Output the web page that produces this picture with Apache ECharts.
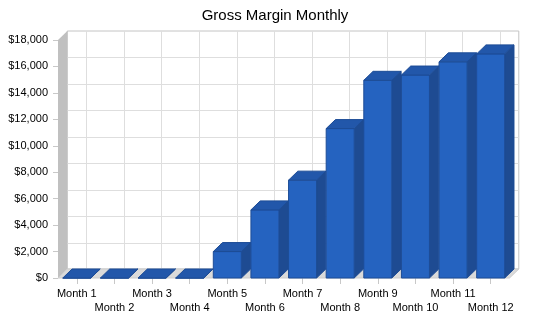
<!DOCTYPE html>
<html>
<head>
<meta charset="utf-8">
<script src="https://cdn.jsdelivr.net/npm/echarts@6/dist/echarts.min.js"></script>
<style>html,body{margin:0;padding:0;background:#fff}#c{width:550px;height:318px}</style>
</head>
<body>
<div id="c"></div>
<script>
const categories = ['Month 1','Month 2','Month 3','Month 4','Month 5','Month 6','Month 7','Month 8','Month 9','Month 10','Month 11','Month 12'];
const grossMargin = [0, 0, 0, 0, 2000, 5150, 7400, 11300, 14950, 15350, 16350, 16950];
const yMin = 0, yMax = 18000, yInterval = 2000;
const yTickValues = [0, 2000, 4000, 6000, 8000, 10000, 12000, 14000, 16000, 18000];

const DEPTH = 0.247;   // depth offset as share of category band
const DY = 9;          // vertical depth offset in px
const BAR = 0.745;     // bar width as share of band

const chart = echarts.init(document.getElementById('c'), null, {renderer: 'canvas'});

function wallsItem(params, api) {
  const cs = params.coordSys;
  const L = cs.x, T = cs.y, R = cs.x + cs.width, B = cs.y + cs.height;
  const band = api.size([1, 0])[0];
  const dx = band * DEPTH, dy = DY;
  const children = [];
  children.push({type: 'rect', shape: {x: L + dx, y: T - dy, width: R - L, height: B - T},
    style: {fill: '#ffffff', stroke: '#c4c4c4', lineWidth: 1}});
  yTickValues.forEach(function (v) {
    if (v === yMin || v === yMax) return;
    const y = Math.round(api.coord([0, v])[1] - dy) + 0.5;
    children.push({type: 'line', shape: {x1: L + dx, y1: y, x2: R + dx, y2: y},
      style: {stroke: '#dedede', lineWidth: 1}});
  });
  categories.forEach(function (c, i) {
    const x = Math.round(api.coord([i, 0])[0] + dx) + 0.5;
    children.push({type: 'line', shape: {x1: x, y1: T - dy, x2: x, y2: B - dy},
      style: {stroke: '#dedede', lineWidth: 1}});
  });
  children.push({type: 'polygon', shape: {points: [[L, T], [L + dx, T - dy], [L + dx, B - dy], [L, B]]},
    style: {fill: '#c0c0c0'}});
  children.push({type: 'polygon', shape: {points: [[L, B], [L + dx, B - dy], [R + dx, B - dy], [R, B]]},
    style: {fill: '#dadada', stroke: '#cccccc', lineWidth: 1}});
  return {type: 'group', children: children};
}

function barItem(params, api) {
  const i = api.value(0), v = api.value(1);
  const top = api.coord([i, v]);
  const base = api.coord([i, 0]);
  const band = api.size([1, 0])[0];
  const w = band * BAR, dx = band * DEPTH, dy = DY;
  const x0 = top[0] - w / 2, x1 = x0 + w;
  const yT = top[1], yB = base[1];
  const stroke = '#1d4c96';
  return {type: 'group', children: [
    {type: 'polygon', shape: {points: [[x1, yT], [x1 + dx, yT - dy], [x1 + dx, yB - dy], [x1, yB]]},
      style: {fill: '#1e4b92', stroke: stroke, lineWidth: 1}},
    {type: 'rect', shape: {x: x0, y: yT, width: w, height: yB - yT},
      style: {fill: '#2563c0', stroke: stroke, lineWidth: 1}},
    {type: 'polygon', shape: {points: [[x0, yT], [x0 + dx, yT - dy], [x1 + dx, yT - dy], [x1, yT]]},
      style: {fill: '#2257aa', stroke: stroke, lineWidth: 1}}
  ]};
}

chart.setOption({
  animation: false,
  title: {text: 'Gross Margin Monthly', left: 'center', top: 3,
    textStyle: {fontFamily: 'Liberation Sans, Arial, sans-serif', fontSize: 15, fontWeight: 'normal', color: '#000'}},
  grid: {left: 58, right: 40.5, top: 40, bottom: 40},
  xAxis: {
    type: 'category', data: categories,
    axisLine: {show: false},
    axisTick: {show: true, alignWithLabel: true, length: 6, lineStyle: {color: '#c8c8c8'}},
    splitLine: {show: false},
    axisLabel: {
      interval: 0, margin: 9, color: '#000', fontSize: 11, lineHeight: 14,
      fontFamily: 'Liberation Sans, Arial, sans-serif',
      formatter: function (val, idx) { return idx % 2 === 1 ? '\n' + val : val; }
    }
  },
  yAxis: {
    type: 'value', min: yMin, max: yMax, interval: yInterval,
    axisLine: {show: false},
    axisTick: {show: true, length: 5, lineStyle: {color: '#c8c8c8'}},
    splitLine: {show: false},
    axisLabel: {
      margin: 10, color: '#000', fontSize: 11,
      fontFamily: 'Liberation Sans, Arial, sans-serif',
      formatter: function (v) { return '$' + v.toLocaleString('en-US'); }
    }
  },
  series: [
    {type: 'custom', renderItem: wallsItem, data: [[0, 0]], z: 1, silent: true, clip: false},
    {type: 'custom', renderItem: barItem, z: 2, clip: false,
      data: grossMargin.map(function (v, i) { return [i, v]; })}
  ]
});
</script>
</body>
</html>
